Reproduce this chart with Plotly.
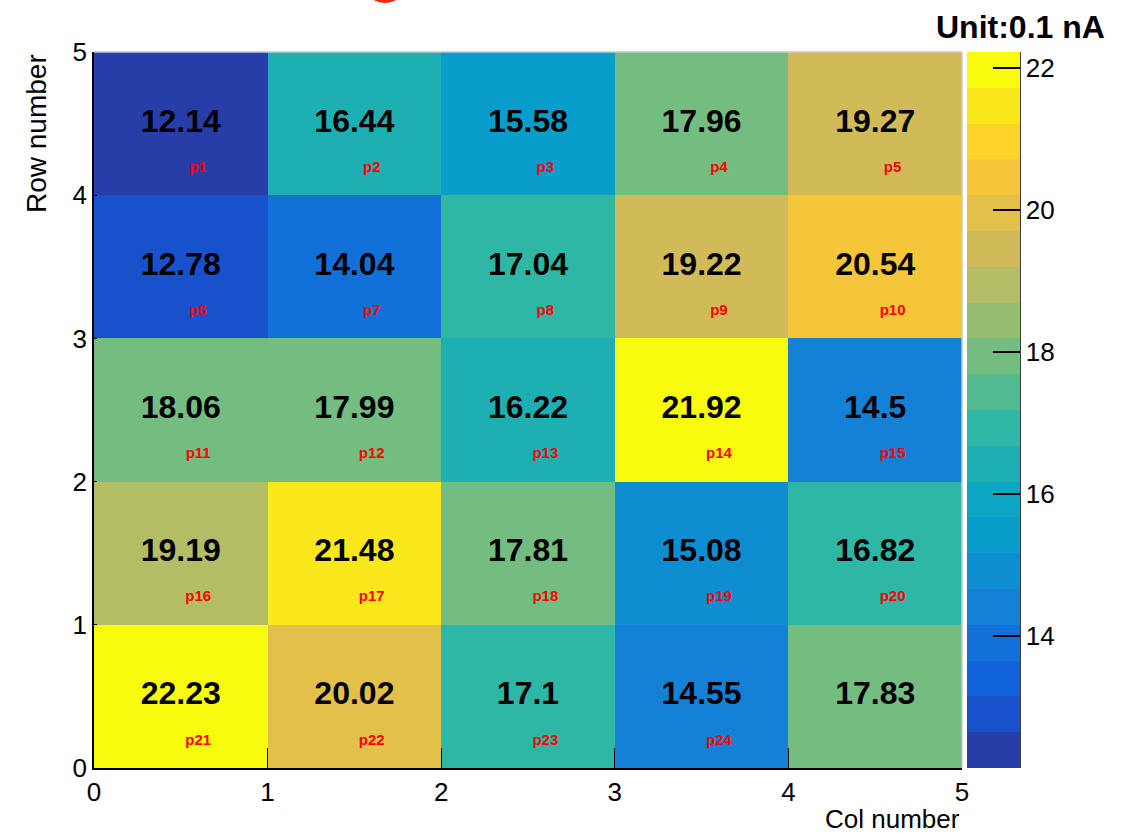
import numpy as np
import plotly.graph_objects as go

# Grid of currents, rows listed from top (row 4-5) to bottom (row 0-1)
values_rows = [
    [12.14, 16.44, 15.58, 17.96, 19.27],
    [12.78, 14.04, 17.04, 19.22, 20.54],
    [18.06, 17.99, 16.22, 21.92, 14.50],
    [19.19, 21.48, 17.81, 15.08, 16.82],
    [22.23, 20.02, 17.10, 14.55, 17.83],
]
pad_labels = [
    ["p1", "p2", "p3", "p4", "p5"],
    ["p6", "p7", "p8", "p9", "p10"],
    ["p11", "p12", "p13", "p14", "p15"],
    ["p16", "p17", "p18", "p19", "p20"],
    ["p21", "p22", "p23", "p24", ""],
]
col_centers = [0.5, 1.5, 2.5, 3.5, 4.5]
row_centers = [4.5, 3.5, 2.5, 1.5, 0.5]
cbar_ticks = [14, 16, 18, 20, 22]

# ROOT "kBird" palette stops
stops = [0.0, 0.125, 0.25, 0.375, 0.5, 0.625, 0.75, 0.875, 1.0]
red = [0.2082, 0.0592, 0.0780, 0.0232, 0.1802, 0.5301, 0.8186, 0.9956, 0.9764]
green = [0.1664, 0.3599, 0.5041, 0.6419, 0.7178, 0.7492, 0.7328, 0.7862, 0.9832]
blue = [0.5293, 0.8684, 0.8385, 0.7914, 0.6425, 0.4662, 0.3499, 0.1968, 0.0539]

ncolors = 255
ndiv = 20
t = np.linspace(0, 1, ncolors)
pal_r = np.interp(t, stops, red)
pal_g = np.interp(t, stops, green)
pal_b = np.interp(t, stops, blue)

colorscale = []
for i in range(ndiv):
    idx = min(int((i + 0.99) * ncolors / ndiv), ncolors - 1)
    c = "rgb(%d,%d,%d)" % (round(pal_r[idx] * 255), round(pal_g[idx] * 255), round(pal_b[idx] * 255))
    colorscale.append([i / ndiv, c])
    colorscale.append([(i + 1) / ndiv, c])

z = np.array(values_rows)
zmin, zmax = float(z.min()), float(z.max())

FONT = "Liberation Sans"

fig = go.Figure()
fig.add_trace(go.Heatmap(
    x=col_centers, y=row_centers, z=z,
    colorscale=colorscale, zmin=zmin, zmax=zmax,
    hoverinfo="z",
    colorbar=dict(
        x=(967 - 94) / 868, xanchor="left", xpad=0,
        y=0, yanchor="bottom", ypad=0, len=1, lenmode="fraction",
        thickness=53, thicknessmode="pixels",
        outlinewidth=0,
        tickmode="array", tickvals=cbar_ticks,
        ticktext=[str(v) for v in cbar_ticks],
        ticks="inside", ticklen=27, tickwidth=1.5, tickcolor="black",
        tickfont=dict(family=FONT, size=26, color="black"),
    ),
))

xs, ys, vt, px, py, pt = [], [], [], [], [], []
for r, yc in enumerate(row_centers):
    for c, xc in enumerate(col_centers):
        xs.append(xc)
        ys.append(yc)
        vt.append(f"{values_rows[r][c]:g}")
        if pad_labels[r][c]:
            px.append(xc + 0.1)
            py.append(yc - 0.31)
            pt.append(pad_labels[r][c])

fig.add_trace(go.Scatter(
    x=xs, y=ys, text=vt, mode="text", hoverinfo="skip",
    textfont=dict(family=FONT, size=32, color="black", weight="bold"),
    showlegend=False,
))
fig.add_trace(go.Scatter(
    x=px, y=py, text=pt, mode="text", hoverinfo="skip",
    textfont=dict(family=FONT, size=15, color="red", weight="bold"),
    showlegend=False,
))

axis_common = dict(
    range=[0, 5], dtick=1, tick0=0, showgrid=False, zeroline=False,
    showline=True, linecolor="black", linewidth=1.5,
    tickfont=dict(family=FONT, size=26, color="black"),
    tickcolor="black", tickwidth=1.3, ticks="inside",
)

fig.update_layout(
    width=1140, height=834,
    margin=dict(l=94, r=178, t=52, b=66),
    paper_bgcolor="white", plot_bgcolor="white",
    showlegend=False,
    xaxis=dict(**axis_common, ticklen=20),
    yaxis=dict(**axis_common, ticklen=3),
    annotations=[
        dict(text="Col number", xref="paper", yref="paper", x=1, y=0,
             xanchor="right", yanchor="top", yshift=-34, showarrow=False,
             font=dict(family=FONT, size=26, color="black")),
        dict(text="Row number", xref="paper", yref="paper", x=0, y=1,
             xanchor="right", yanchor="top", xshift=-40, textangle=-90,
             showarrow=False, font=dict(family=FONT, size=28, color="black")),
        dict(text="<b>Unit:0.1 nA</b>", xref="paper", yref="paper",
             x=(1020 - 94) / 868, y=1, xanchor="center", yanchor="bottom",
             yshift=5, showarrow=False,
             font=dict(family=FONT, size=32, color="black")),
    ],
    shapes=[
        # faint frame along the top and right of the plot area
        dict(type="line", xref="paper", yref="paper", x0=0, x1=1, y0=1, y1=1,
             line=dict(color="rgb(200,200,200)", width=1.5)),
        dict(type="line", xref="paper", yref="paper", x0=1, x1=1, y0=0, y1=1,
             line=dict(color="rgb(200,200,200)", width=1.5)),
        # colour bar axis line
        dict(type="line", xref="paper", yref="paper",
             x0=(1020 - 94) / 868, x1=(1020 - 94) / 868, y0=0, y1=1,
             line=dict(color="black", width=1.5)),
        dict(type="circle", xref="paper", yref="paper",
             x0=(363 - 94) / 868, x1=(407 - 94) / 868,
             y0=(768 - 3) / 716, y1=(768 + 41) / 716,
             fillcolor="rgb(240,40,20)", line=dict(width=0)),
    ],
)

fig.write_html("out.html")
